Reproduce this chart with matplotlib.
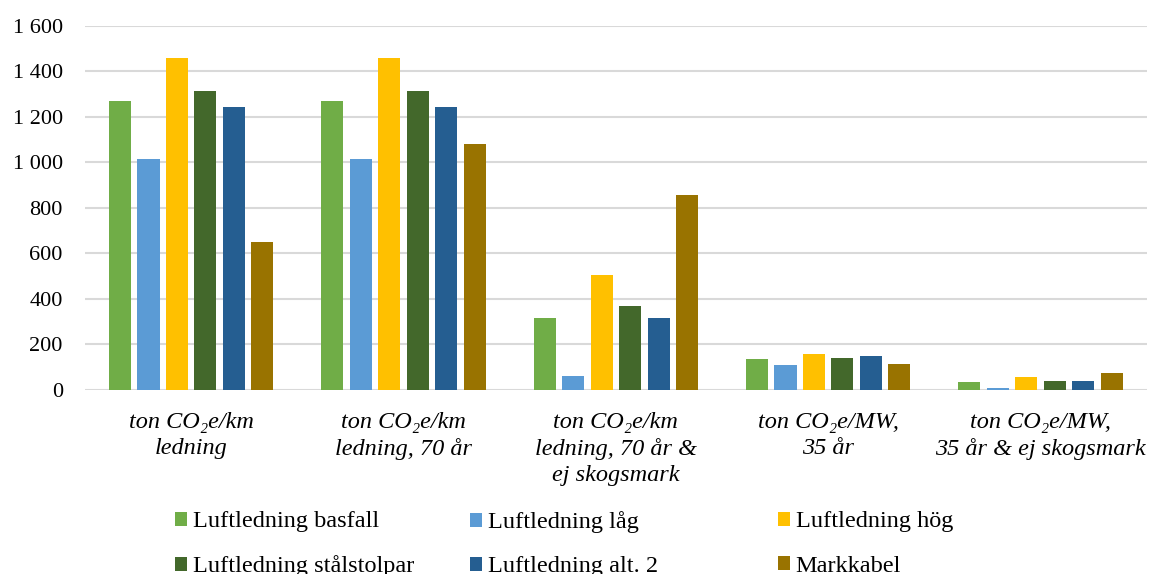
import matplotlib
matplotlib.use("Agg")
import matplotlib.pyplot as plt
import numpy as np

plt.rcParams['font.family'] = ['Liberation Serif', 'DejaVu Serif']

categories = [
    "ton CO\u2082e/km\nledning",
    "ton CO\u2082e/km\nledning, 70 år",
    "ton CO\u2082e/km\nledning, 70 år &\nej skogsmark",
    "ton CO\u2082e/MW,\n35 år",
    "ton CO\u2082e/MW,\n35 år & ej skogsmark",
]
series_names = [
    "Luftledning basfall",
    "Luftledning låg",
    "Luftledning hög",
    "Luftledning stålstolpar",
    "Luftledning alt. 2",
    "Markkabel",
]
basfall = [1270, 1270, 318, 136, 34]
lag = [1015, 1015, 62, 108, 7]
hog = [1460, 1460, 507, 157, 56]
stalstolpar = [1315, 1315, 367, 140, 40]
alt2 = [1245, 1245, 318, 151, 40]
markkabel = [650, 1080, 857, 113, 75]
series_values = [basfall, lag, hog, stalstolpar, alt2, markkabel]
colors = ["#70AD47", "#5B9BD5", "#FFC000", "#43682B", "#255E91", "#997300"]
yticks = [0, 200, 400, 600, 800, 1000, 1200, 1400, 1600]
ytick_labels = ["0", "200", "400", "600", "800", "1 000", "1 200", "1 400", "1 600"]

fig = plt.figure(figsize=(11.49, 5.74), dpi=100)
ax = fig.add_axes([0.074, 0.3206, 0.924, 0.6341])

x = np.arange(len(categories))
step = 0.134
width = 0.104
handles = []
for i, (name, vals, c) in enumerate(zip(series_names, series_values, colors)):
    off = (i - 2.5) * step
    b = ax.bar(x + off, vals, width=width, color=c, label=name, zorder=3)
    handles.append(b)

ax.set_xlim(-0.5, len(categories) - 0.5)
ax.set_ylim(0, 1600)
ax.set_yticks(yticks)
ax.set_yticklabels(ytick_labels, fontsize=16)
ax.set_xticks(x)
ax.set_xticklabels(categories, fontsize=17.5, style='italic', linespacing=1.3, va='top')
ax.tick_params(axis='both', length=0)
ax.tick_params(axis='y', pad=16)
ax.tick_params(axis='x', pad=16)
ax.grid(axis='y', color='#D9D9D9', linewidth=1.5, zorder=0)
for s in ax.spines.values():
    s.set_visible(False)

col_x = [0.1523, 0.409, 0.677]
for j in range(3):
    hs = [handles[j], handles[j + 3]]
    ls = [series_names[j], series_names[j + 3]]
    fig.legend(hs, ls, loc='upper left', bbox_to_anchor=(col_x[j], 0.109),
               frameon=False, fontsize=17.5, handlelength=0.48, handleheight=0.48,
               handletextpad=0.25, labelspacing=0.95, borderpad=0, borderaxespad=0)

fig.savefig("out.png", dpi=100)
